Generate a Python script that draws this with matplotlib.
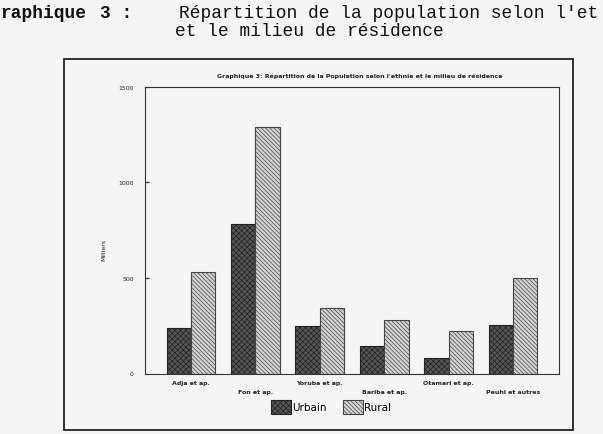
import matplotlib
matplotlib.use('Agg')
import matplotlib.pyplot as plt
import matplotlib.patches as mpatches
import numpy as np

# Population par ethnie et milieu de residence (milliers)
ethnies = ['Adja et ap.', 'Fon et ap.', 'Yoruba et ap.', 'Bariba et ap.',
           'Otamari et ap.', 'Peuhl et autres']
urbain = [237, 779, 250, 146, 83, 254]
rural = [530, 1287, 341, 279, 221, 500]
yticks = [0, 500, 1000, 1500]

W, H = 603, 435
bg = '#f5f5f5'
fig = plt.figure(figsize=(W / 100, H / 100), dpi=100, facecolor=bg)

def fx(px):
    return px / W

def fy(py):
    return 1 - py / H

# page heading (typewriter style, as it shows on the scan)
mono = 'Liberation Mono'
fs = 12.9
fig.text(fx(0), fy(14), 'raphique', family=mono, weight='bold', fontsize=fs, color='#111', va='center')
fig.text(fx(100), fy(14), '3 :', family=mono, weight='bold', fontsize=fs, color='#111', va='center')
fig.text(fx(179), fy(14), "Répartition de la population selon l'et",
         family=mono, fontsize=fs, color='#111', va='center')
fig.text(fx(175), fy(32), 'et le milieu de résidence', family=mono, fontsize=fs, color='#111', va='center')

# outer frame
fig.patches.append(mpatches.Rectangle((fx(64), fy(431)), fx(573) - fx(64), fy(60) - fy(431),
                                      transform=fig.transFigure, fill=False,
                                      edgecolor='#222', lw=1.3))

ax = fig.add_axes([fx(145), fy(374.5), fx(559) - fx(145), fy(87.5) - fy(374.5)])
ax.set_facecolor(bg)

plt.rcParams['hatch.linewidth'] = 0.5
u_style = dict(facecolor='#555555', edgecolor='#222', hatch='xxxxxx', lw=0.8)
r_style = dict(facecolor='#d4d4d4', edgecolor='#444', hatch='\\\\\\\\\\\\\\\\', lw=0.8)

x = np.arange(len(ethnies))
w = 0.38
ax.bar(x - w / 2, urbain, w, **u_style)
ax.bar(x + w / 2, rural, w, **r_style)

ax.set_xlim(-0.714, len(ethnies) - 1 + 0.714)
ax.set_ylim(0, 1500)
ax.set_yticks(yticks)
ax.set_yticklabels([str(t) for t in yticks], fontsize=4.5)
ax.tick_params(axis='y', direction='in', length=3, width=0.8, pad=8, colors='#222')
ax.set_xticks([])
for s in ax.spines.values():
    s.set_color('#333')
    s.set_linewidth(0.8)

# staggered category labels
for i, name in enumerate(ethnies):
    yy = 384 if i % 2 == 0 else 393
    fig.text(ax.transData.transform((i, 0))[0] / W, fy(yy), name, ha='center', va='center',
             fontsize=4.5, weight='bold', color='#222')

fig.text(fx(104), fy(250), 'Milliers', rotation=90, ha='center', va='center',
         fontsize=4.5, color='#222')
fig.text(fx(360), fy(76), "Graphique 3: Répartition de la Population selon l'ethnie et le milieu de résidence",
         ha='center', va='center', fontsize=4.5, weight='bold', color='#222')

handles = [mpatches.Patch(label='Urbain', **u_style),
           mpatches.Patch(label='Rural', **r_style)]
fig.legend(handles=handles, loc='center', bbox_to_anchor=(fx(331), fy(408)), ncol=2,
           frameon=False, fontsize=7.5, handlelength=2.0, handleheight=1.6,
           handletextpad=0.1, columnspacing=1.5)

fig.savefig('out.png', dpi=100, facecolor=bg)
